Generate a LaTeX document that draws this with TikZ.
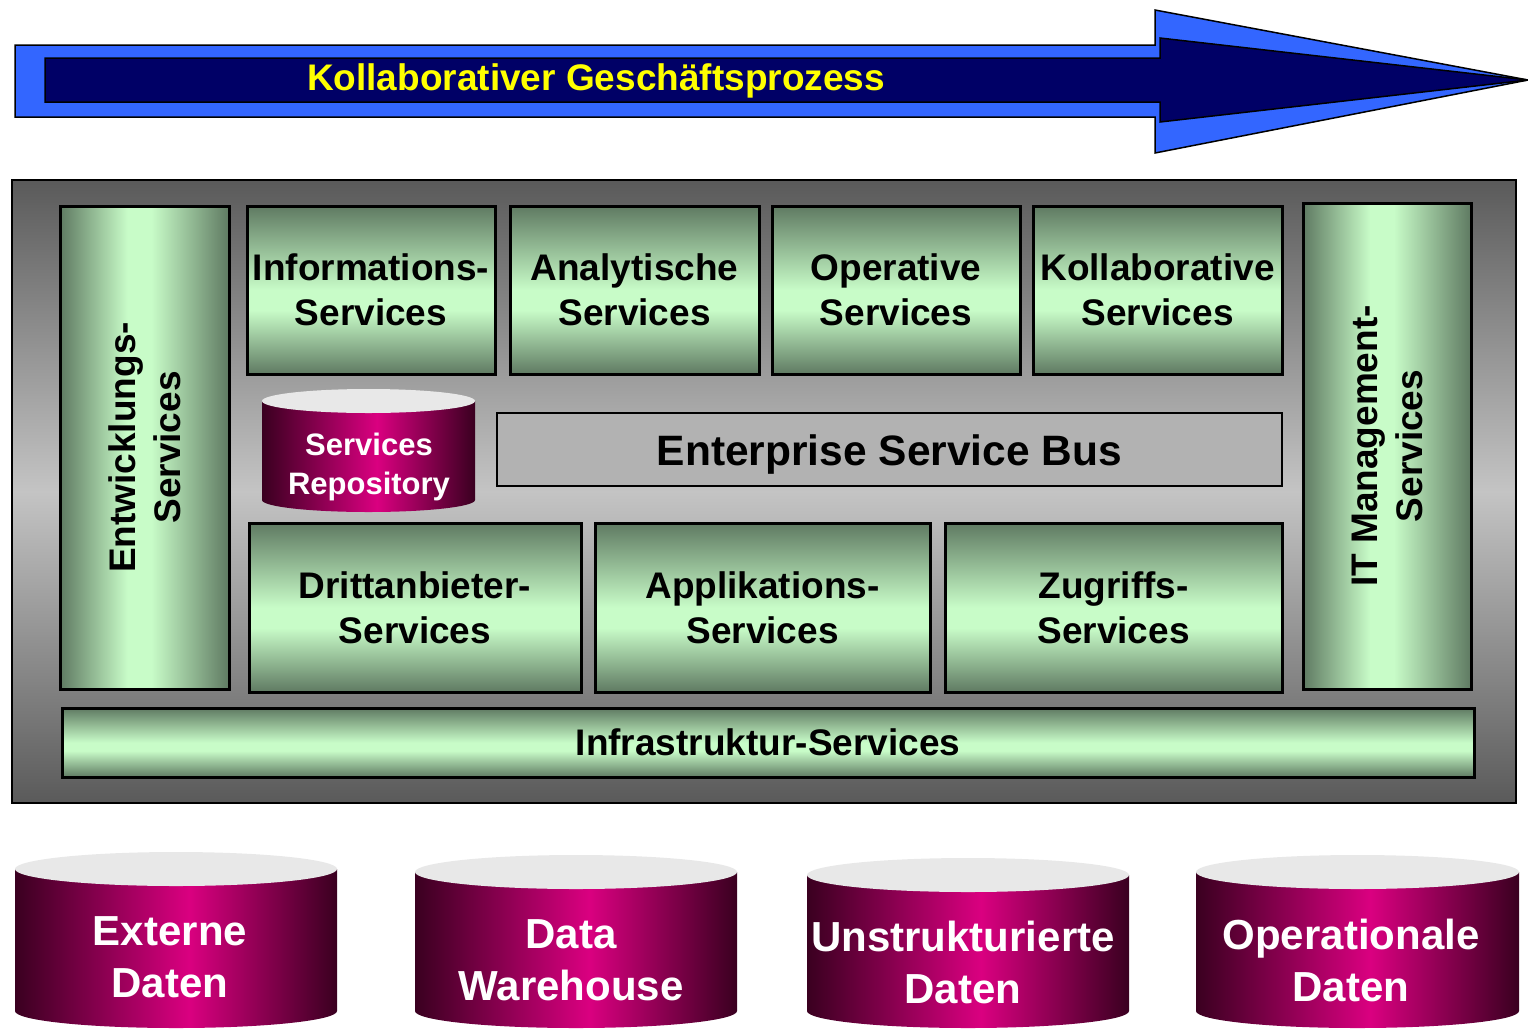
\documentclass[tikz,border=0pt]{standalone}
\usepackage{fontspec}
\setmainfont{Liberation Sans}
\definecolor{gdark}{HTML}{5F7A62}
\definecolor{glight}{HTML}{C8FCC8}
\definecolor{grayD}{HTML}{5A5A5A}
\definecolor{grayL}{HTML}{C4C4C4}
\definecolor{magD}{HTML}{3A0020}
\definecolor{magL}{HTML}{DA0080}
\definecolor{ctop}{HTML}{E8E8E8}
\definecolor{arrowOut}{HTML}{3366FF}
\definecolor{arrowIn}{HTML}{000066}
\definecolor{esbgray}{HTML}{B2B2B2}
\definecolor{txtyellow}{HTML}{FFFF00}
\pgfdeclarehorizontalshading{greenH}{100bp}{color(0bp)=(gdark); color(25bp)=(gdark); color(45bp)=(glight); color(52bp)=(glight); color(75bp)=(gdark); color(100bp)=(gdark)}
\pgfdeclareverticalshading{greenV}{100bp}{color(0bp)=(gdark); color(25bp)=(gdark); color(44bp)=(glight); color(50bp)=(glight); color(75bp)=(gdark); color(100bp)=(gdark)}
\pgfdeclareverticalshading{grayV}{100bp}{color(0bp)=(grayD); color(25bp)=(grayD); color(50bp)=(grayL); color(75bp)=(grayD); color(100bp)=(grayD)}
\pgfdeclarehorizontalshading{magH}{100bp}{color(0bp)=(magD); color(25bp)=(magD); color(52bp)=(magL); color(75bp)=(magD); color(100bp)=(magD)}
\newcommand\dbcyl[5]{% x1, x2, ytop, ybot, ry
  \shade[shading=magH] (#1,#3) -- (#1,#4) arc[start angle=180, end angle=0, x radius={(#2-#1)/2}, y radius=#5] -- (#2,#3) -- cycle;
  \fill[ctop] ({(#1+#2)/2},#3) ellipse[x radius={(#2-#1)/2}, y radius=#5];
}
\begin{document}
\begin{tikzpicture}[x=1pt,y=-1pt,
  gtext/.style={align=center, font=\fontsize{37}{45}\selectfont\bfseries, text=black},
  gboxV/.style={draw=black, line width=3pt, shading=greenV, inner sep=0pt, gtext},
  gboxH/.style={draw=black, line width=3pt, shading=greenH, inner sep=0pt},
  cyltext/.style={align=center, text=white, font=\fontsize{42}{52}\selectfont\bfseries},
  repotext/.style={align=center, text=white, font=\fontsize{31}{39}\selectfont\bfseries}]
\useasboundingbox (0,0) rectangle (1528,1029);

% process arrow
\filldraw[fill=arrowOut, draw=black, line width=1.5pt] (15,45) -- (1155,45) -- (1155,10) -- (1528,80) -- (1155,153) -- (1155,117) -- (15,117) -- cycle;
\filldraw[fill=arrowIn, draw=black, line width=1.5pt] (45,58) -- (1160,58) -- (1160,38) -- (1528,80) -- (1160,122) -- (1160,102) -- (45,102) -- cycle;
\node[anchor=base, text=txtyellow, font=\fontsize{37}{45}\selectfont\bfseries, inner sep=0pt] (proc) at (596,90) {Kollaborativer Geschäftsprozess};

% outer frame
\node[draw=black, line width=1.5pt, shading=grayV, minimum width=1504pt, minimum height=623pt, inner sep=0pt] (frame) at (764,491.5) {};

% vertical side boxes
\node[gboxH, minimum width=169pt, minimum height=483pt] (entw) at (144.5,447.5) {};
\node[gtext, rotate=90] (entwt) at (144.5,447.5) {Entwicklungs-\\Services};
\node[gboxH, minimum width=168pt, minimum height=486pt] (itm) at (1387,446) {};
\node[gtext, rotate=90] (itmt) at (1387,446) {IT Management-\\Services};

% top row
\node[gboxV, minimum width=248pt, minimum height=168pt] (info) at (371,290) {Informations-\\Services};
\node[gboxV, minimum width=249pt, minimum height=168pt] (anal) at (634.5,290) {Analytische\\Services};
\node[gboxV, minimum width=248pt, minimum height=168pt] (oper) at (896,290) {Operative\\Services};
\node[gboxV, minimum width=249pt, minimum height=168pt] (koll) at (1157.5,290) {Kollaborative\\Services};

% ESB
\node[draw=black, line width=1.5pt, fill=esbgray, minimum width=785pt, minimum height=73pt, inner sep=0pt] (esb) at (889.5,449.5) {};
\node[anchor=base, font=\fontsize{42.5}{50}\selectfont\bfseries, inner sep=0pt] (esbt) at (889.5,465) {Enterprise Service Bus};

% repository
\dbcyl{262}{475}{401}{500}{12}
\node[repotext] (repo) at (369,467) {Services\\Repository};

% bottom row
\node[gboxV, minimum width=332pt, minimum height=169pt] (dritt) at (415,607.5) {Drittanbieter-\\Services};
\node[gboxV, minimum width=335pt, minimum height=169pt] (appl) at (762.5,607.5) {Applikations-\\Services};
\node[gboxV, minimum width=337pt, minimum height=169pt] (zugr) at (1113.5,607.5) {Zugriffs-\\Services};

% infrastructure
\node[gboxV, minimum width=1412pt, minimum height=69pt] (infra) at (768,742.5) {Infrastruktur-Services};

% data stores
\dbcyl{15}{337}{869}{1011}{17}
\node[cyltext] (ext) at (170,957) {Externe\\Daten};
\dbcyl{415}{737}{872}{1011}{17}
\node[cyltext] (dwh) at (571,960) {Data\\Warehouse};
\dbcyl{807}{1129}{875}{1011}{17}
\node[cyltext] (unstr) at (963,962) {Unstrukturierte\\Daten};
\dbcyl{1196}{1519}{872}{1011}{17}
\node[cyltext] (oper2) at (1351,960) {Operationale\\Daten};
\end{tikzpicture}
\end{document}
